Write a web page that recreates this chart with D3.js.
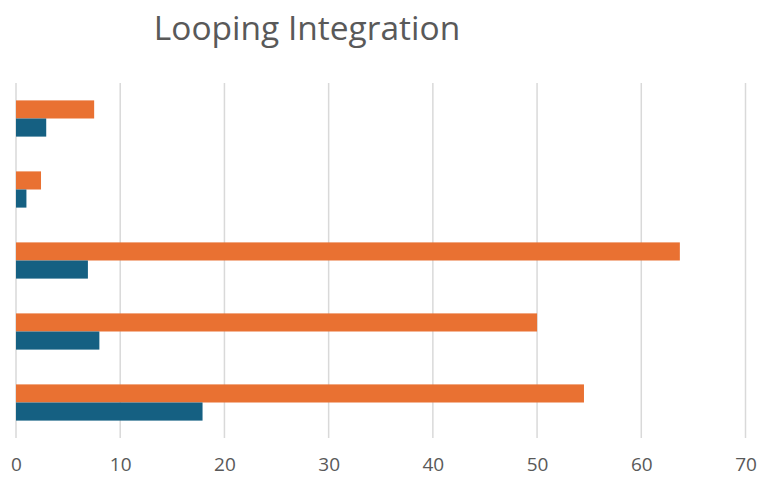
<!DOCTYPE html>
<html>
<head>
<meta charset="utf-8">
<script src="https://cdn.jsdelivr.net/npm/d3@7"></script>
<style>
  body { margin: 0; background: #fff; }
  svg { display: block; font-family: "Open Sans", sans-serif; }
</style>
</head>
<body>
<svg id="chart" width="759" height="478"></svg>
<script>
// categories top to bottom (no labels shown in the original)
var categories = ["A", "B", "C", "D", "E"];
var seriesNames = ["Series 1", "Series 2"];
var orangeValues = [7.5, 2.4, 63.7, 50.0, 54.5];
var blueValues = [2.9, 1.0, 6.9, 8.0, 17.9];
var xTicks = [0, 10, 20, 30, 40, 50, 60, 70];

var svg = d3.select("#chart");
var margin = { top: 83, left: 16, right: 13.5, bottom: 40 };
var width = 759, height = 478;

var x = d3.scaleLinear()
  .domain([0, 70])
  .range([margin.left, width - margin.right]);

var y = d3.scaleBand()
  .domain(categories)
  .range([margin.top, height - margin.bottom])
  .paddingInner(0.49)
  .paddingOuter(0.245);

var sub = d3.scaleBand()
  .domain(seriesNames)
  .range([0, y.bandwidth()]);

// title
svg.append("text")
  .attr("x", 307)
  .attr("y", 40)
  .attr("text-anchor", "middle")
  .attr("fill", "#595959")
  .style("font-size", "33.5px")
  .text("Looping Integration");

// grid lines
svg.append("g")
  .selectAll("line")
  .data(xTicks)
  .enter().append("line")
  .attr("x1", function(d) { return x(d); })
  .attr("x2", function(d) { return x(d); })
  .attr("y1", margin.top)
  .attr("y2", height - margin.bottom)
  .attr("stroke", "#d9d9d9")
  .attr("stroke-width", 1.5);

// x axis labels
var xAxis = d3.axisBottom(x).tickValues(xTicks).tickSize(0).tickPadding(0);
var ax = svg.append("g")
  .attr("transform", "translate(0," + (height - margin.bottom + 19) + ")")
  .call(xAxis);
ax.select(".domain").remove();
ax.selectAll("text")
  .attr("fill", "#595959")
  .style("font-family", "'Open Sans', sans-serif")
  .style("font-size", "19px");

// bars
var bars = svg.append("g");
bars.selectAll("rect.orange")
  .data(orangeValues)
  .enter().append("rect")
  .attr("class", "orange")
  .attr("x", x(0))
  .attr("y", function(d, i) { return y(categories[i]) + sub(seriesNames[0]); })
  .attr("width", function(d) { return x(d) - x(0); })
  .attr("height", sub.bandwidth())
  .attr("fill", "#E97132");

bars.selectAll("rect.blue")
  .data(blueValues)
  .enter().append("rect")
  .attr("class", "blue")
  .attr("x", x(0))
  .attr("y", function(d, i) { return y(categories[i]) + sub(seriesNames[1]); })
  .attr("width", function(d) { return x(d) - x(0); })
  .attr("height", sub.bandwidth())
  .attr("fill", "#156082");
</script>
</body>
</html>
